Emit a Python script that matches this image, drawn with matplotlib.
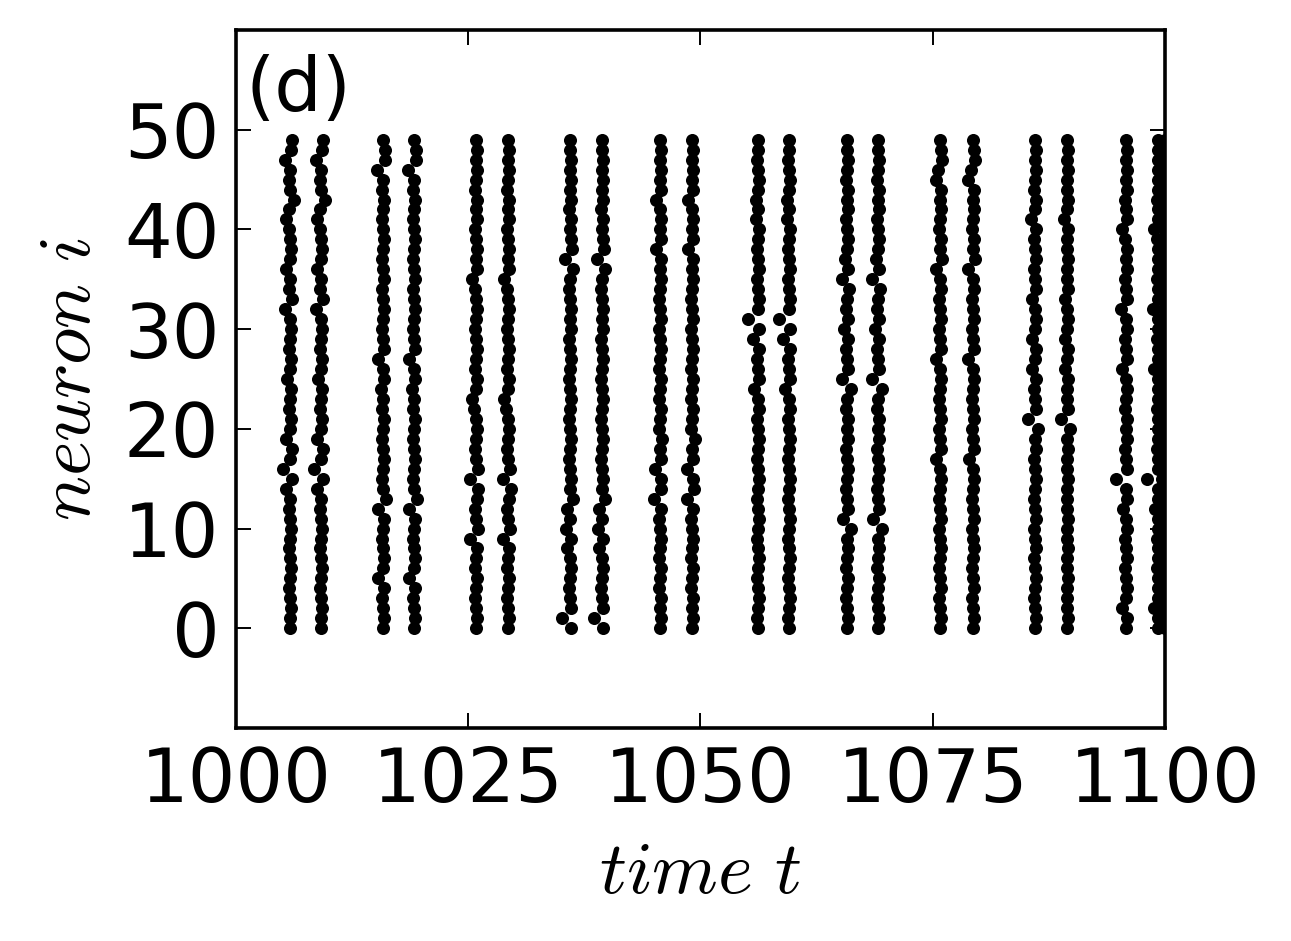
import matplotlib
matplotlib.use("Agg")
import matplotlib.pyplot as plt
import numpy as np

plt.rcParams['mathtext.fontset'] = 'cm'
plt.rcParams['font.family'] = 'DejaVu Sans'

neurons = list(range(50))

# burst onset times, first and second burst of each pair
burst_a = [1005.8, 1015.8, 1025.8, 1035.95, 1045.6, 1056.2, 1065.8, 1075.8, 1086.0, 1095.8]
burst_b = [1009.15, 1019.15, 1029.3, 1039.4, 1049.1, 1059.5, 1069.1, 1079.3, 1089.5, 1099.2]
edge_burst = 1100.0

# per-neuron spike offsets inside each pair, in tenths of a time unit (neuron 0..49)
off1 = [0, 0, 1, 0, -1, 0, 1, 0, -1, 0, 1, 0, -1, 0, -4, 2, -7, 0, 2, -4,
        0, 1, -1, 0, 1, -3, 0, 1, -1, 0, 1, 0, -5, 2, -1, 0, -4, 0, 1, 0,
        -1, -4, -1, 4, 0, -1, 0, -5, 1, 2]
off2 = [0, 1, 0, -1, 1, -5, 0, 1, 0, -1, 0, 1, -5, 3, 0, -1, 0, 1, 0, -1,
        0, 1, -1, 0, -2, 1, 0, -5, 1, 0, -1, 0, 1, 0, -1, 1, 0, -1, 0, 1,
        0, -1, 0, 1, -1, 0, -6, 2, 2, 0]
off3 = [0, 1, 0, -1, 0, 1, -1, 0, 1, -6, 2, 0, -1, 1, 3, -6, 2, 0, -1, 0,
        1, 0, -2, -4, 0, 1, -1, 0, 1, 0, -1, 0, 1, 0, -1, -4, 1, 0, 1, 0,
        -1, 1, 0, 1, -1, 0, 1, 0, 1, 0]
off4 = [1, -9, 1, 0, -1, 0, 1, 0, -3, 1, -4, 0, -3, 3, 0, 1, 0, -1, 0, 1,
        0, -1, 0, 1, 0, -1, 0, 1, 0, -1, 1, 0, 1, 0, -1, 0, 3, -5, 2, 1,
        0, 1, -1, 1, 0, 1, 0, 1, 0, 0]
off5 = [0, 1, 0, 1, -1, 0, 1, -1, 0, 1, 0, -1, 1, -6, 2, 1, -5, 1, 0, 3,
        -1, 0, 1, -1, 0, 1, -1, 0, 1, 0, -1, 1, 0, -1, 0, 1, 0, 1, -4, 1,
        0, 1, 0, -4, 1, 0, 1, 0, 1, 0]
off6 = [0, -1, 0, 1, 0, -1, 0, 1, 0, -1, 0, 1, 0, -1, 0, 1, 0, -1, 0, 1,
        0, -1, 1, 0, -4, 1, 0, -1, 1, -6, 1, -11, 0, 1, 0, -1, 1, 0, -1, 0,
        1, -2, 0, -2, 0, 1, 0, -1, 0, 0]
off7 = [0, 1, 0, -1, 0, 1, -1, 0, 1, 0, 4, -5, 1, 0, -1, 0, 1, 0, -1, 1,
        0, 1, -1, 0, 4, -6, 1, 0, -1, 1, -3, 1, -1, 0, 2, -6, 1, -2, 0, 1,
        0, -1, 1, 0, 1, -1, 0, 1, 0, 0]
off8 = [0, 1, 0, -1, 1, 0, -1, 0, 1, 0, -1, 1, 0, -1, 0, 1, 0, -4, 1, 0,
        -1, 1, 0, -1, 0, 1, 0, -5, 1, 0, -1, 1, 0, -1, 1, 0, -5, 2, 0, 1,
        -1, 0, 1, 0, 1, -5, -2, 2, 1, 0]
off9 = [0, 1, 0, -1, 0, 1, 0, -1, 1, 0, -1, 1, 0, -1, 0, 1, 0, -1, 1, 0,
        3, -7, 1, 0, -1, 1, -3, 0, 1, -3, 0, 1, 0, -3, 1, 0, -1, 1, 0, -1,
        1, -4, 0, 1, -1, 0, 1, 0, 1, 0]
off10 = [0, 1, -4, 0, 1, 0, -1, 1, 0, -1, 1, 0, -3, 1, 0, -11, 1, 0, -1, 1,
         0, 1, -1, 0, 1, 0, -4, 1, 0, -1, 1, 0, -5, 1, 0, -1, 1, 0, 1, -1,
         -4, 1, 0, -1, 1, 0, 1, 0, 1, 0]
offsets = [off1, off2, off3, off4, off5, off6, off7, off8, off9, off10]

fig = plt.figure(figsize=(12.91, 9.41), dpi=100)
ax = fig.add_axes([0.1828, 0.2264, 0.7196, 0.7417])

for ta, tb, off in zip(burst_a, burst_b, offsets):
    d = np.array(off) / 10.0
    ax.plot(ta + d, neurons, 'o', color='k', ms=9.4, mew=0)
    ax.plot(tb + d, neurons, 'o', color='k', ms=9.4, mew=0)
ax.plot(edge_burst + np.array(off10) / 10.0 * 0.3, neurons, 'o', color='k', ms=9.4, mew=0)

ax.set_xlim(1000, 1100)
ax.set_ylim(-10, 60)
ax.set_xticks([1000, 1025, 1050, 1075, 1100])
ax.set_yticks([0, 10, 20, 30, 40, 50])
ax.tick_params(direction='in', top=True, right=True, length=11, width=1.4,
               labelsize=54, pad=12)
for s in ax.spines.values():
    s.set_linewidth(2.6)

ax.set_xlabel(r'$time\ t$', fontsize=54, labelpad=13)
ax.set_ylabel(r'$neuron\ i$', fontsize=54, labelpad=13)
ax.text(0.01, 0.965, '(d)', transform=ax.transAxes, fontsize=54, va='top', ha='left')

fig.savefig('out.png', dpi=100)
